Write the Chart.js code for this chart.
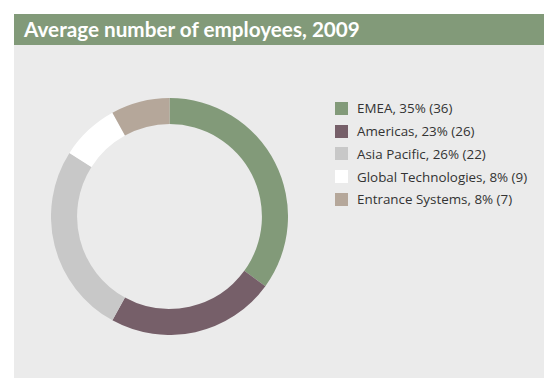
<!DOCTYPE html>
<html><head><meta charset="utf-8">
<script src="https://cdn.jsdelivr.net/npm/chart.js@4"></script>
<style>
html,body{margin:0;padding:0;background:#fff;width:544px;height:378px;overflow:hidden;}
#panel{position:absolute;left:14px;top:14px;width:530px;height:364px;background:#ebebeb;}
#title{position:absolute;left:0;top:0;width:530px;height:31px;background:#829a79;color:#fff;font-family:Lato,sans-serif;font-weight:bold;font-size:20.7px;line-height:31px;padding-left:10px;box-sizing:border-box;}
#wrap{position:absolute;left:37px;top:84px;width:237px;height:237px;}
#legend{position:absolute;left:321px;top:83px;font-family:"Open Sans",sans-serif;font-size:13.4px;color:#333;}
.row{height:22.75px;display:flex;align-items:center;white-space:nowrap;}
.box{width:13px;height:13px;margin-right:9px;}
</style></head>
<body>
<div id="panel">
<div id="title">Average number of employees, 2009</div>
<div id="wrap"><canvas id="c" width="237" height="237"></canvas></div>
<div id="legend"></div>
</div>
<script>
const categories = ["EMEA", "Americas", "Asia Pacific", "Global Technologies", "Entrance Systems"];
const shares = [35, 23, 26, 8, 8];
const prior = [36, 26, 22, 9, 7];
const colors = ["#829a79", "#765f69", "#c8c8c8", "#ffffff", "#b5a79a"];

const lg = document.getElementById('legend');
categories.forEach((c,i)=>{
  const r=document.createElement('div');r.className='row';
  r.innerHTML='<div class="box" style="background:'+colors[i]+'"></div><span>'+c+', '+shares[i]+'% ('+prior[i]+')</span>';
  lg.appendChild(r);
});

new Chart(document.getElementById('c'), {
  type:'doughnut',
  data:{labels:categories,datasets:[{data:shares,backgroundColor:colors,borderWidth:0,hoverOffset:0}]},
  options:{responsive:false,animation:false,cutout:'78%',
    plugins:{legend:{display:false},tooltip:{enabled:false}},
    layout:{padding:0}}
});
</script>
</body></html>
